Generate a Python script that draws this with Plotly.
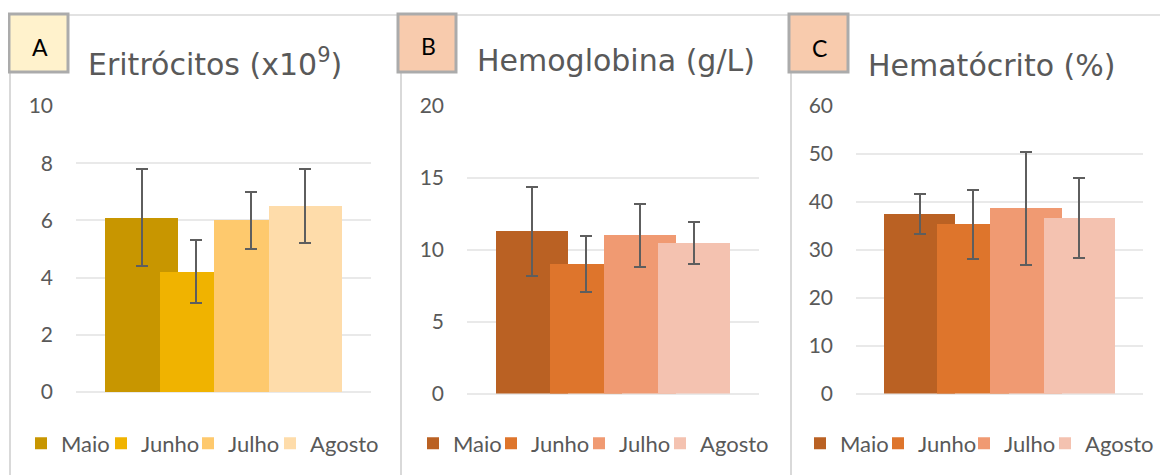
import plotly.graph_objects as go

W, H = 1168, 475
OFF = 8  # default page body margin in the exported HTML

months = ["Maio", "Junho", "Julho", "Agosto"]

eri_mean = [6.1, 4.2, 6.0, 6.5]
eri_err = [1.7, 1.1, 1.0, 1.3]

hb_mean = [11.3, 9.0, 11.0, 10.45]
hb_err = [3.1, 1.95, 2.2, 1.45]

ht_mean = [37.4, 35.35, 38.7, 36.6]
ht_err = [4.15, 7.2, 11.8, 8.3]

colors_a = ["#C89600", "#F0B300", "#FEC96D", "#FEDCAA"]
colors_bc = ["#BA6123", "#DE752C", "#F09A72", "#F4C2B0"]

titles = ["Eritrócitos (x10<sup>9</sup>)", "Hemoglobina (g/L)", "Hematócrito (%)"]
letters = ["A", "B", "C"]
letter_fills = ["#FFF2CC", "#F8CBAD", "#F8CBAD"]
y_max = [10, 20, 60]
y_dtick = [2, 5, 10]

panels = [
    (eri_mean, eri_err, colors_a),
    (hb_mean, hb_err, colors_bc),
    (ht_mean, ht_err, colors_bc),
]

# layout geometry (screen pixels)
plot_x = [(76, 371), (467, 759), (856, 1143)]
plot_y = [(106, 392), (106, 393.5), (106, 393.5)]
panel_left = [10, 401, 791]
box_x = [(9, 68), (398, 456), (789, 848)]
box_y = (14, 72)
letter_pos = [(40, 47), (428, 46), (819, 48)]
title_pos = [(86, 62), (475, 61), (866, 66)]
# left edge of each legend entry text, per panel
legend_text_x = [
    [61, 141, 228, 310],
    [453, 531, 619, 700],
    [840, 918, 1004, 1085],
]
legend_y = 443.5


def px(x):
    return (x - OFF) / W


def py(y):
    return 1 - (y - OFF) / H


TXT = "#595959"
GRID = "#E9E9E9"

fig = go.Figure()
layout_extra = {}

k = 0
for i, (means, errs, cols) in enumerate(panels):
    sfx = "" if i == 0 else str(i + 1)
    for j, (m, v, e, c) in enumerate(zip(months, means, errs, cols)):
        leg = "legend" if k == 0 else f"legend{k + 1}"
        fig.add_trace(go.Bar(
            x=[m], y=[v], name=m,
            marker=dict(color=c, line=dict(width=0)),
            width=1.34,
            error_y=dict(type="data", array=[e], visible=True,
                         color="#5E5E5E", thickness=2, width=6),
            xaxis="x" + sfx, yaxis="y" + sfx,
            legend=leg, showlegend=True,
        ))
        layout_extra[leg] = dict(
            orientation="h", x=px(legend_text_x[i][j] - 40), y=py(legend_y),
            xanchor="left", yanchor="middle",
            font=dict(family="Lato", size=22, color=TXT),
            bgcolor="rgba(0,0,0,0)", borderwidth=0,
            itemclick=False, itemdoubleclick=False,
        )
        k += 1
    layout_extra["xaxis" + sfx] = dict(
        domain=[px(plot_x[i][0]), px(plot_x[i][1])],
        anchor="y" + sfx, type="category", categoryarray=months,
        categoryorder="array", range=[-1.2, 4.2],
        showticklabels=False, showgrid=False, zeroline=False, showline=False,
        ticks="", fixedrange=True,
    )
    layout_extra["yaxis" + sfx] = dict(
        domain=[py(plot_y[i][1]), py(plot_y[i][0])],
        anchor="x" + sfx, range=[0, y_max[i]], dtick=y_dtick[i],
        showgrid=True, gridcolor=GRID, gridwidth=1.5,
        zeroline=True, zerolinecolor=GRID, zerolinewidth=1.5,
        showline=False, ticks="", ticklabelstandoff=22,
        tickfont=dict(family="Lato", size=21, color=TXT), fixedrange=True,
    )

shapes = []
# panel borders
shapes.append(dict(type="line", xref="paper", yref="paper",
                   x0=px(10), x1=px(W + OFF), y0=py(15), y1=py(15),
                   line=dict(color="#D9D9D9", width=1.5), layer="below"))
for xl in panel_left:
    shapes.append(dict(type="line", xref="paper", yref="paper",
                       x0=px(xl), x1=px(xl), y0=py(15), y1=py(H + OFF),
                       line=dict(color="#D9D9D9", width=2), layer="below"))
# letter boxes
for (x0, x1), fill in zip(box_x, letter_fills):
    shapes.append(dict(type="rect", xref="paper", yref="paper",
                       x0=px(x0), x1=px(x1), y0=py(box_y[1]), y1=py(box_y[0]),
                       fillcolor=fill, line=dict(color="#ABABAB", width=3),
                       layer="above"))

annotations = []
for (lx, ly), t in zip(letter_pos, letters):
    annotations.append(dict(text=t, x=px(lx), y=py(ly), xref="paper", yref="paper",
                            xanchor="center", yanchor="middle", showarrow=False,
                            font=dict(family="Lato", size=23, color="#000000")))
for (tx, ty), t in zip(title_pos, titles):
    annotations.append(dict(text=t, x=px(tx), y=py(ty), xref="paper", yref="paper",
                            xanchor="left", yanchor="middle", showarrow=False,
                            font=dict(family="DejaVu Sans", size=30, color=TXT)))

fig.update_layout(
    width=W, height=H, autosize=False,
    margin=dict(l=0, r=0, t=0, b=0, autoexpand=False),
    paper_bgcolor="white", plot_bgcolor="white",
    barmode="overlay", bargap=0,
    shapes=shapes, annotations=annotations,
    showlegend=True,
    **layout_extra,
)

fig.write_html("out.html")
